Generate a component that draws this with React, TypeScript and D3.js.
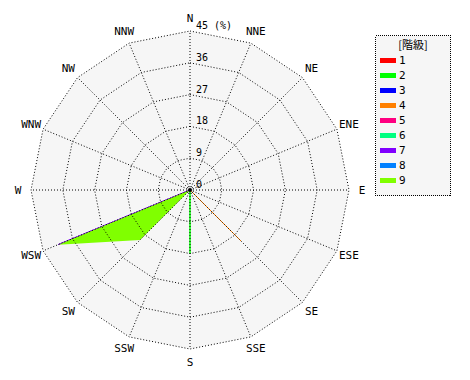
import React from "react";
import * as d3 from "d3";

const directions = ["N","NNE","NE","ENE","E","ESE","SE","SSE","S","SSW","SW","WSW","W","WNW","NW","NNW"];
const ringTicks = [0, 9, 18, 27, 36, 45];
const seriesNames = ["1","2","3","4","5","6","7","8","9"];
const seriesColors = ["#ff0000","#00ff00","#0000ff","#ff8000","#ff0080","#00ff80","#8000ff","#0080ff","#80ff00"];
// values per series per direction (%), order as directions
const s1 = [0,0,0,0,0,0,0,0,0,0,0,0,0,0,0,0];
const s2 = [0,0,0,0,0,0,0,0,18,0,0,0,0,0,0,0];
const s3 = [0,0,0,0,0,0,0,0,0,0,0,0,0,0,0,0];
const s4 = [0,0,0,0,0,0,20.4,0,0,0,0,0,0,0,0,0];
const s5 = [0,0,0,0,0,0,0,0,0,0,0,0,0,0,0,0];
const s6 = [0,0,0,0,0,0,0,0,0,0,0,0,0,0,0,0];
const s7 = [0,0,0,0,0,0,0,0,0,0,0,40.4,0,0,0,0];
const s8 = [0,0,0,0,0,0,0,0,0,0,0,0,0,0,0,0];
const s9 = [0,0,0,0,0,0,0,0,0,0,20,40.4,0,0,0,0];
const seriesValues = [s1,s2,s3,s4,s5,s6,s7,s8,s9];

const W = 470, H = 380;
const cx = 190, cy = 190, R = 159;
const font = "'DejaVu Sans Mono', monospace";

export default function App() {
  const r = d3.scaleLinear().domain([0, 45]).range([0, R]);
  const ang = (i: number) => (i * 2 * Math.PI) / directions.length;
  const pt = (i: number, v: number): [number, number] => [
    cx + Math.sin(ang(i)) * r(v),
    cy - Math.cos(ang(i)) * r(v),
  ];
  const line = d3.line<[number, number]>().curve(d3.curveLinearClosed);
  const ringPath = (v: number) => line(directions.map((_, i) => pt(i, v))) as string;

  return (
    <svg width={W} height={H} style={{ position: "absolute", left: 0, top: 0 }}>
      <rect x={0} y={0} width={W} height={H} fill="#ffffff" />
      <path d={ringPath(45)} fill="#f6f6f6" />
      {seriesValues.map((vals, si) => {
        const pts = vals.map((v, i) => pt(i, v));
        const d = line(pts) as string;
        const area = Math.abs(d3.polygonArea(pts));
        return (
          <path key={si} d={d} fill={seriesColors[si]} stroke={area > 1 ? "none" : seriesColors[si]} strokeWidth={1} />
        );
      })}
      {ringTicks.filter(t => t > 0).map(t => (
        <path key={t} d={ringPath(t)} fill="none" stroke="#000" strokeWidth={1} strokeDasharray="1,2" />
      ))}
      {directions.map((d, i) => {
        const [x, y] = pt(i, 45);
        return <line key={d} x1={cx} y1={cy} x2={x} y2={y} stroke="#000" strokeWidth={1} strokeDasharray="1,2" />;
      })}
      <circle cx={cx} cy={cy} r={2} fill="#000" />
      {directions.map((d, i) => {
        const [x, y] = pt(i, 45 * 172 / 159);
        return (
          <text key={d} x={x} y={y} textAnchor="middle" dominantBaseline="central" fontFamily={font} fontSize={11} fill="#000">{d}</text>
        );
      })}
      {ringTicks.map(t => (
        <text key={t} x={cx + 6} y={cy - r(t) - 2} fontFamily={font} fontSize={10} fill="#000">{t === 45 ? "45 (%)" : String(t)}</text>
      ))}
      <rect x={375.5} y={35.5} width={75} height={160} fill="#f6f6f6" stroke="#000" strokeDasharray="1,1" shapeRendering="crispEdges" />
      <text x={413} y={44} textAnchor="middle" dominantBaseline="central" fontFamily="'Noto Sans CJK JP', monospace" fontSize={11} fill="#000">[階級]</text>
      {seriesNames.map((n, i) => (
        <g key={n}>
          <rect x={380} y={58 + i * 15} width={16} height={5} fill={seriesColors[i]} />
          <text x={399} y={60.5 + i * 15} dominantBaseline="central" fontFamily={font} fontSize={11} fill="#000">{n}</text>
        </g>
      ))}
    </svg>
  );
}
